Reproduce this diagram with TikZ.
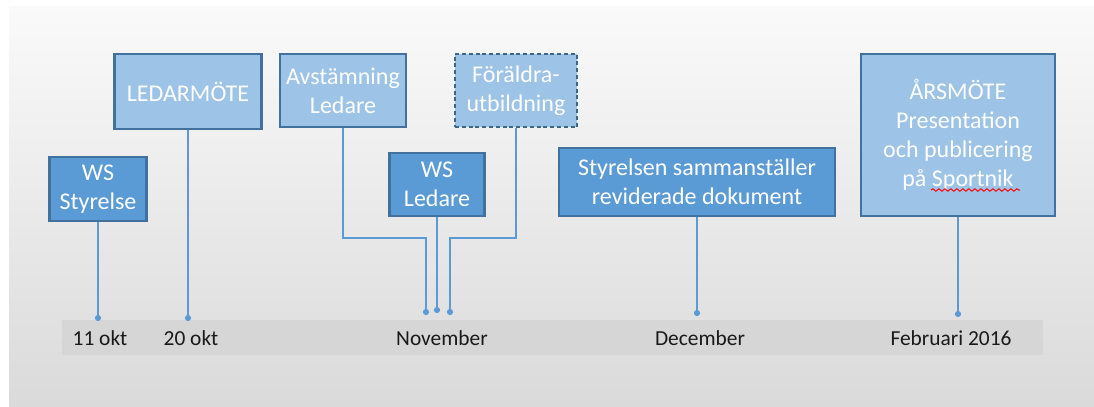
\documentclass[tikz,border=0pt]{standalone}
\usepackage{fontspec}
\setmainfont{Carlito}
\usepackage{tikz}
\usetikzlibrary{arrows.meta, calc, positioning, decorations.pathmorphing}

\definecolor{boxdark}{HTML}{5B9BD5}
\definecolor{boxlight}{HTML}{9DC3E6}
\definecolor{boxline}{HTML}{41719C}
\definecolor{stemblue}{HTML}{5B9BD5}
\definecolor{bandgray}{HTML}{D6D6D6}
\definecolor{bgtop}{HTML}{FAFAFA}
\definecolor{bgbottom}{HTML}{DADADA}

\begin{document}
\begin{tikzpicture}[x=0.5pt, y=-0.5pt]

\tikzstyle{darkbox} = [rectangle, draw=boxline, line width=1.2pt, fill=boxdark, text=white, align=center, inner sep=0pt, font=\fontsize{12}{14.5}\selectfont]
\tikzstyle{lightbox} = [darkbox, fill=boxlight]
\tikzstyle{plannedbox} = [lightbox, draw=boxline!90!black, dash pattern=on 2pt off 1.4pt]
\tikzstyle{datelabel} = [text=black!90, font=\fontsize{10.7}{13}\selectfont]
\tikzstyle{stem} = [line width=1pt, draw=stemblue, -{Circle[length=3pt]}]

\useasboundingbox (0,0) rectangle (1094,407);

% Background and time band
\fill[top color=bgtop, bottom color=bgbottom] (9,6) rectangle (1094,407);
\fill[bandgray] (62,320) rectangle (1043,355);

% Make nodes
\node (wsstyr) [darkbox, minimum width=48.5pt, minimum height=32pt] at (98,189) {WS\\Styrelse};
\node (ledarmote) [lightbox, minimum width=73.5pt, minimum height=37.5pt] at (188,91.5) {LEDARMÖTE};
\node (avst) [lightbox, minimum width=63pt, minimum height=36.5pt] at (343,90.5) {Avstämning\\Ledare};
\node (wsled) [darkbox, minimum width=47.5pt, minimum height=31.5pt] at (437,184.5) {WS\\Ledare};
\node (foral) [plannedbox, minimum width=61pt, minimum height=36.5pt] at (516,90.5) {Föräldra-\\utbildning};
\node (styr) [darkbox, minimum width=138pt, minimum height=34pt] at (697,182) {Styrelsen sammanställer\\reviderade dokument};
\node (arsm) [lightbox, minimum width=97pt, minimum height=81pt] at (958,135) {ÅRSMÖTE\\Presentation\\och publicering\\på Sportnik};

% Dates
\node (l1) [datelabel] at (100,338) {11 okt};
\node (l2) [datelabel] at (191,338) {20 okt};
\node (l3) [datelabel] at (442,338) {November};
\node (l4) [datelabel] at (700,338) {December};
\node (l5) [datelabel] at (951,338) {Februari 2016};

% Points on the time band
\coordinate (d1) at (98,321);
\coordinate (d2) at (188,321);
\coordinate (n1) at (426,315);
\coordinate (n2) at (437,313);
\coordinate (n3) at (450,315);
\coordinate (d4) at (697,316);
\coordinate (d5) at (958,317);
\coordinate (ka) at (426,238);
\coordinate (kf) at (450,238);

% Connect nodes
\draw[stem] (wsstyr) -- (d1);
\draw[stem] (ledarmote) -- (d2);
\draw[stem] (avst) |- (ka) -- (n1);
\draw[stem] (wsled) -- (n2);
\draw[stem] (foral) |- (kf) -- (n3);
\draw[stem] (styr) -- (d4);
\draw[stem] (arsm) -- (d5);

% spell check mark
\draw[red, line width=0.5pt, decorate, decoration={snake, amplitude=0.6pt, segment length=3pt}]
  ($(arsm.center)+(-27,55)$) -- ($(arsm.center)+(62,55)$);

\end{tikzpicture}
\end{document}
